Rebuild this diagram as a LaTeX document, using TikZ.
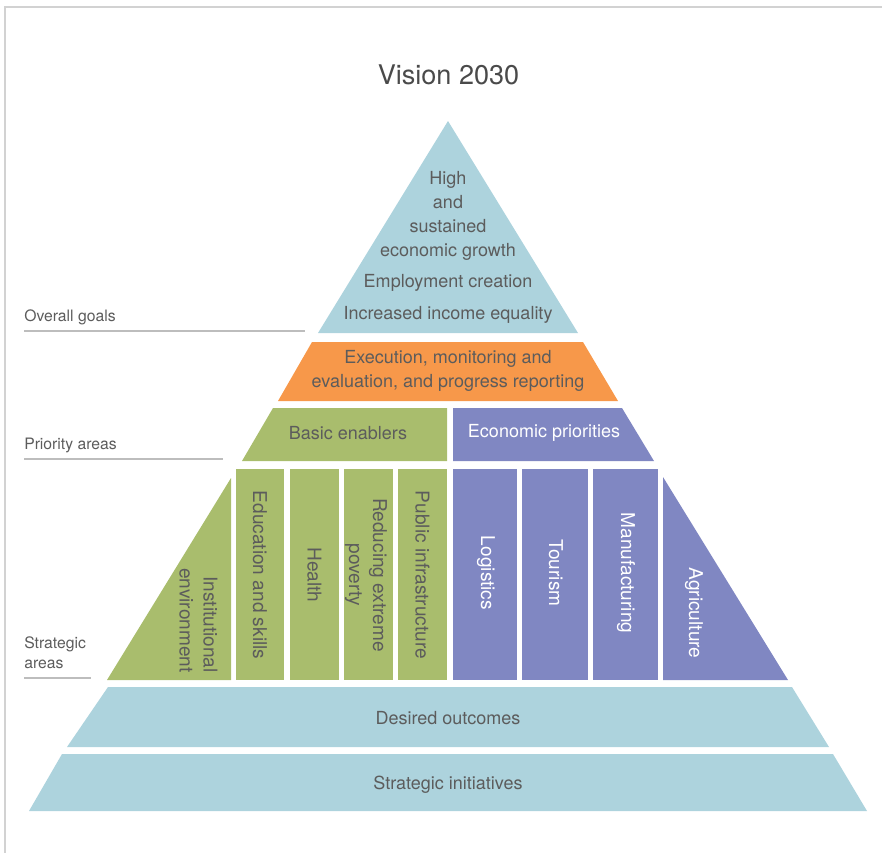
\documentclass[tikz,border=0pt]{standalone}
\usepackage{fontspec}
\setmainfont{TeX Gyre Heros}
\usetikzlibrary{positioning}

\definecolor{skyblue}{HTML}{ADD3DD}
\definecolor{orangebar}{HTML}{F7984A}
\definecolor{enabler}{HTML}{A9BD6D}
\definecolor{priority}{HTML}{8087C2}
\definecolor{txtgray}{HTML}{5C5C5C}
\definecolor{titlegray}{HTML}{4A4A4A}
\definecolor{framegray}{HTML}{D2D2D2}
\definecolor{rulegray}{HTML}{BDBDBD}

\begin{document}
\begin{tikzpicture}[
      x=0.75pt, y=-0.75pt,
      txt/.style={
        font=\fontsize{13.5}{18}\selectfont,
        text=txtgray,
        align=center,
        inner sep=0pt
      },
      wtxt/.style={txt, text=white},
      vert/.style={rotate=-90, font=\fontsize{14.3}{18}\selectfont},
      side/.style={
        font=\fontsize{11.8}{15}\selectfont,
        text=txtgray,
        align=left,
        inner sep=0pt
      },
      rule/.style={draw=rulegray, line width=1.5pt}
    ]
    \useasboundingbox (0,0) rectangle (882,853);
    %% Frame
    \draw[framegray, line width=1.5pt] (5,853) -- (5,7) -- (882,7);
    \node[font=\fontsize{20.3}{24}\selectfont, text=titlegray] (title) at (448.5,75) {Vision 2030};

    %% Overall goals
    \fill[skyblue] (448,121) -- (578,333) -- (318,333) -- cycle;
    \node[txt] (goal-1) at (448,215.5) {High\\and\\sustained\\economic growth};
    \node[txt] (goal-2) at (448,283) {Employment creation};
    \node[txt] (goal-3) at (448,315) {Increased income equality};

    %% Execution
    \fill[orangebar] (312,342) -- (583,342) -- (618,401) -- (278,401) -- cycle;
    \node[txt] (exec) at (448,370.5) {Execution, monitoring and\\evaluation, and progress reporting};

    %% Priority areas
    \fill[enabler] (273,408) -- (447,408) -- (447,461) -- (242,461) -- cycle;
    \fill[priority] (453,408) -- (622,408) -- (654,461) -- (453,461) -- cycle;
    \node[txt] (basic) at (348,433) {Basic enablers};
    \node[wtxt] (econ) at (544,433) {Economic priorities};

    %% Strategic areas, basic enablers
    \fill[enabler] (231,478) -- (231,680) -- (107,680) -- cycle;
    \fill[enabler] (236,469) rectangle (284,680);
    \fill[enabler] (290,469) rectangle (339,680);
    \fill[enabler] (344,469) rectangle (393,680);
    \fill[enabler] (398,469) rectangle (447,680);
    \node[txt, vert, align=right, anchor=east] (inst) at (198.5,673) {Institutional\\environment};
    \node[txt, vert] (edu) at (260,575) {Education and skills};
    \node[txt, vert] (health) at (314.5,575) {Health};
    \node[txt, vert] (poverty) at (366,575) {Reducing extreme\\poverty};
    \node[txt, vert] (infra) at (422.5,575) {Public infrastructure};

    %% Strategic areas, economic priorities
    \fill[priority] (453,469) rectangle (517,680);
    \fill[priority] (522,469) rectangle (588,680);
    \fill[priority] (593,469) rectangle (658,680);
    \fill[priority] (663,477) -- (788,680) -- (663,680) -- cycle;
    \node[wtxt, vert] (logistics) at (486,573) {Logistics};
    \node[wtxt, vert] (tourism) at (556,573) {Tourism};
    \node[wtxt, vert] (manuf) at (626,573) {Manufacturing};
    \node[wtxt, vert] (agri) at (694,613) {Agriculture};

    %% Outcomes and initiatives
    \fill[skyblue] (108,687) -- (792,687) -- (829,747) -- (67,747) -- cycle;
    \node[txt] (outcomes) at (448,718) {Desired outcomes};
    \fill[skyblue] (62,754) -- (833,754) -- (867,811) -- (29,811) -- cycle;
    \node[txt] (initiatives) at (448,785) {Strategic initiatives};

    %% Side labels
    \node[side, anchor=base west] (lbl-goals) at (24,321) {Overall goals};
    \node[side, anchor=base west] (lbl-prio) at (24,449) {Priority areas};
    \node[side, anchor=base west] (lbl-strat) at (24,668) {Strategic\\areas};
    \coordinate (goals-a) at (24,331);
    \coordinate (goals-b) at (305,331);
    \coordinate (prio-a) at (24,459);
    \coordinate (prio-b) at (223,459);
    \coordinate (strat-a) at (24,678);
    \coordinate (strat-b) at (91,678);
    \draw[rule] (goals-a) -- (goals-b);
    \draw[rule] (prio-a) -- (prio-b);
    \draw[rule] (strat-a) -- (strat-b);
  \end{tikzpicture}
\end{document}
